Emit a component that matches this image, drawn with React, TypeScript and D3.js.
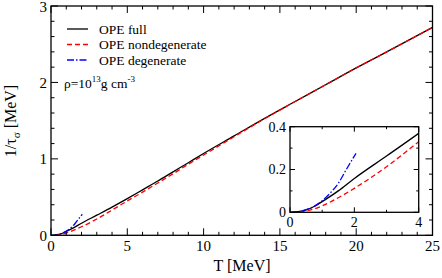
import React, { useRef, useEffect } from 'react';
import * as d3 from 'd3';

// main panel data (T in MeV, 1/tau in MeV)
const tFull = [0, 0.25, 0.5, 0.75, 1, 1.5, 2, 3, 4, 5, 6, 7, 8, 9, 10, 12, 14, 16, 18, 20, 22, 25];
const fullVals = [0, 0.003, 0.011, 0.027, 0.05, 0.1, 0.158, 0.263, 0.369, 0.48, 0.595, 0.71, 0.83, 0.95, 1.07, 1.3, 1.53, 1.75, 1.97, 2.19, 2.4, 2.72];
const tNondeg = [0.3, 0.5, 0.75, 1, 1.5, 2, 3, 4, 5, 6, 7, 8, 9, 10, 12, 14, 16, 18, 20, 22, 25];
const nondegVals = [0.001, 0.006, 0.016, 0.03, 0.068, 0.112, 0.213, 0.33, 0.45, 0.565, 0.685, 0.805, 0.93, 1.05, 1.29, 1.525, 1.75, 1.97, 2.19, 2.4, 2.72];
const tDeg = [0, 0.25, 0.5, 0.75, 1, 1.25, 1.5, 1.75, 2.05];
const degVals = [0, 0.002, 0.012, 0.028, 0.054, 0.09, 0.135, 0.2, 0.275];

const xTicksMain = [0, 5, 10, 15, 20, 25];
const yTicksMain = [0, 1, 2, 3];
const xTicksInset = [0, 2, 4];
const yTicksInset = [0, 0.2, 0.4];

const legendItems = [
  { label: 'OPE full', color: '#000000', dash: null },
  { label: 'OPE nondegenerate', color: '#ff0000', dash: '5,3' },
  { label: 'OPE degenerate', color: '#0000ff', dash: '7,2,1.5,2' },
];

const FONT = "'Liberation Serif', 'Times New Roman', 'DejaVu Serif', serif";

const App = () => {
  const svgRef = useRef(null);

  useEffect(() => {
    document.body.style.margin = '0';
    const width = 442;
    const height = 278;
    const svg = d3.select(svgRef.current)
      .attr('width', width)
      .attr('height', height)
      .style('font-family', FONT)
      .style('background', 'white');
    svg.selectAll('*').remove();

    const series = [
      { t: tFull, v: fullVals, color: '#000000', dash: null },
      { t: tNondeg, v: nondegVals, color: '#ff0000', dash: '5,3' },
      { t: tDeg, v: degVals, color: '#0000ff', dash: '7,2,1.5,2' },
    ];

    const addText = (parent, x, y, size, anchor) => parent.append('text')
      .attr('x', x).attr('y', y)
      .attr('text-anchor', anchor)
      .style('font-family', FONT)
      .style('font-size', `${size}px`);

    const drawPanel = (x, y, xMajor, xMinorStep, yMajor, yMinorStep, tickLen, fontSize, clipId) => {
      const [x0, x1] = x.range();
      const [y0, y1] = y.range();
      const g = svg.append('g');

      g.append('clipPath').attr('id', clipId)
        .append('rect').attr('x', x0).attr('y', y1).attr('width', x1 - x0).attr('height', y0 - y1);

      g.append('rect')
        .attr('x', x0).attr('y', y1).attr('width', x1 - x0).attr('height', y0 - y1)
        .attr('fill', 'white').attr('stroke', 'none');

      // curves
      series.forEach(s => {
        const line = d3.line()
          .curve(d3.curveMonotoneX)
          .x((d, i) => x(s.t[i]))
          .y((d) => y(d));
        g.append('path')
          .datum(s.v)
          .attr('clip-path', `url(#${clipId})`)
          .attr('fill', 'none')
          .attr('stroke', s.color)
          .attr('stroke-width', 1.3)
          .attr('stroke-dasharray', s.dash)
          .attr('d', line);
      });

      const xd = x.domain();
      const yd = y.domain();
      const xMinor = d3.range(xd[0], xd[1] + 1e-9, xMinorStep);
      const yMinor = d3.range(yd[0], yd[1] + 1e-9, yMinorStep);

      const tick = (x1_, y1_, x2_, y2_) => g.append('line')
        .attr('x1', x1_).attr('y1', y1_).attr('x2', x2_).attr('y2', y2_)
        .attr('stroke', 'black').attr('stroke-width', 1);

      xMinor.forEach(v => {
        const isMajor = xMajor.some(m => Math.abs(m - v) < 1e-9);
        const len = isMajor ? tickLen : tickLen / 2;
        tick(x(v), y0, x(v), y0 - len);
        tick(x(v), y1, x(v), y1 + len);
      });
      yMinor.forEach(v => {
        const isMajor = yMajor.some(m => Math.abs(m - v) < 1e-9);
        const len = isMajor ? tickLen : tickLen / 2;
        tick(x0, y(v), x0 + len, y(v));
        tick(x1, y(v), x1 - len, y(v));
      });

      g.append('rect')
        .attr('x', x0).attr('y', y1).attr('width', x1 - x0).attr('height', y0 - y1)
        .attr('fill', 'none').attr('stroke', 'black').attr('stroke-width', 1.3);

      xMajor.forEach(v => {
        addText(g, x(v), y0 + fontSize + 1, fontSize, 'middle').text(v);
      });
      yMajor.forEach(v => {
        addText(g, x0 - 4, Math.max(y(v) + fontSize * 0.35, fontSize * 0.82), fontSize, 'end').text(v);
      });
    };

    // main panel
    const xMain = d3.scaleLinear().domain([0, 25]).range([51, 432.5]);
    const yMain = d3.scaleLinear().domain([0, 3]).range([235.3, 6]);
    drawPanel(xMain, yMain, xTicksMain, 1, yTicksMain, 0.2, 7, 15, 'clipMain');

    // axis titles
    addText(svg, 242, 271, 16, 'middle').text('T [MeV]');

    const yt = svg.append('text')
      .attr('transform', 'translate(16,121) rotate(-90)')
      .attr('text-anchor', 'middle')
      .style('font-family', FONT)
      .style('font-size', '16px');
    yt.append('tspan').text('1/τ');
    yt.append('tspan').attr('dy', 4).style('font-size', '11px').text('σ');
    yt.append('tspan').attr('dy', -4).text(' [MeV]');

    // legend
    legendItems.forEach((item, i) => {
      const ly = 29 + i * 15.5;
      svg.append('line')
        .attr('x1', 67).attr('x2', 88)
        .attr('y1', ly).attr('y2', ly)
        .attr('stroke', item.color)
        .attr('stroke-width', 1.3)
        .attr('stroke-dasharray', item.dash);
      addText(svg, 99, ly + 4.5, 13.5, 'start').text(item.label);
    });

    const rho = addText(svg, 64, 88, 13.5, 'start');
    rho.append('tspan').text('ρ=10');
    rho.append('tspan').attr('dy', -6).style('font-size', '9px').text('13');
    rho.append('tspan').attr('dy', 6).text('g cm');
    rho.append('tspan').attr('dy', -6).style('font-size', '9px').text('-3');

    // inset
    const xIn = d3.scaleLinear().domain([0, 4]).range([290, 418.7]);
    const yIn = d3.scaleLinear().domain([0, 0.4]).range([212.3, 126.7]);
    drawPanel(xIn, yIn, xTicksInset, 1, yTicksInset, 0.1, 5, 14, 'clipInset');
  }, []);

  return (
    <div style={{ position: 'absolute', left: 0, top: 0, background: 'white' }}>
      <svg ref={svgRef} style={{ display: 'block' }}></svg>
    </div>
  );
};

export default App;
